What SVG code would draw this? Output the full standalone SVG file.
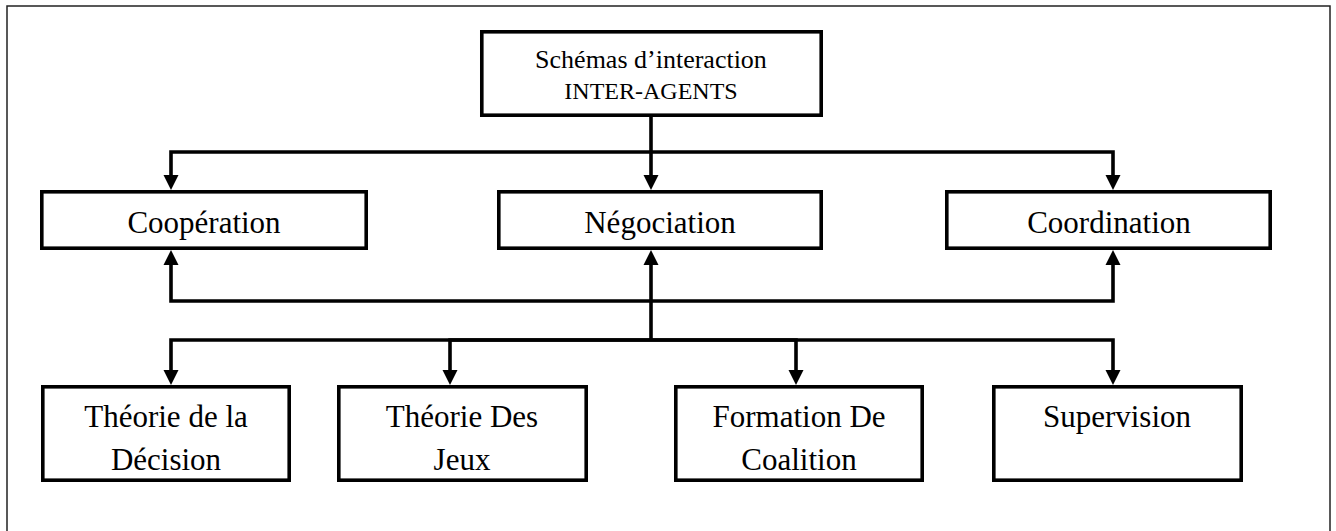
<svg xmlns="http://www.w3.org/2000/svg" width="1336" height="531" viewBox="0 0 1336 531">
  <style>
    .frame { fill: none; stroke: #222; stroke-width: 1.5; }
    .box { fill: #fff; stroke: #000; stroke-width: 3.6; }
    .link { fill: none; stroke: #000; stroke-width: 3.6; stroke-linejoin: miter; }
    .lbl { font-family: "Liberation Serif", "Times New Roman", serif; fill: #000; text-anchor: middle; }
    .big { font-size: 31px; }
  </style>
  <defs>
    <marker id="arrow" markerUnits="userSpaceOnUse" markerWidth="16" markerHeight="16" refX="0" refY="8" orient="auto">
      <path d="M0,0.5 L15,8 L0,15.5 z" fill="#000"/>
    </marker>
  </defs>

  <rect width="1336" height="531" fill="#fff"/>
  <!-- outer frame, runs past the bottom edge -->
  <rect class="frame" x="7" y="6" width="1323" height="560"/>

  <!-- connectors -->
  <g id="connectors">
    <!-- root to the three interaction modes -->
    <path class="link" d="M651,117 V175" marker-end="url(#arrow)"/>
    <path class="link" d="M651,152 H171 V175" marker-end="url(#arrow)"/>
    <path class="link" d="M651,152 H1113 V175" marker-end="url(#arrow)"/>
    <!-- feedback up to the three modes -->
    <path class="link" d="M651,340 V265" marker-end="url(#arrow)"/>
    <path class="link" d="M651,301 H171 V265" marker-end="url(#arrow)"/>
    <path class="link" d="M651,301 H1113 V265" marker-end="url(#arrow)"/>
    <!-- distribution to the four techniques -->
    <path class="link" d="M651,340 H171 V370" marker-end="url(#arrow)"/>
    <path class="link" d="M651,340 H450 V370" marker-end="url(#arrow)"/>
    <path class="link" d="M651,340 H796 V370" marker-end="url(#arrow)"/>
    <path class="link" d="M651,340 H1113 V370" marker-end="url(#arrow)"/>
  </g>

  <g id="root">
    <rect class="box" x="481.8" y="31.8" width="339.4" height="83.4"/>
    <text class="lbl" x="651" y="68" font-size="26">Schémas d’interaction</text>
    <text class="lbl" x="651" y="99" font-size="24">INTER-AGENTS</text>
  </g>

  <g id="cooperation">
    <rect class="box" x="41.8" y="191.8" width="324.4" height="56.4"/>
    <text class="lbl big" x="204" y="233">Coopération</text>
  </g>
  <g id="negociation">
    <rect class="box" x="498.8" y="191.8" width="322.4" height="56.4"/>
    <text class="lbl big" x="660" y="233">Négociation</text>
  </g>
  <g id="coordination">
    <rect class="box" x="946.8" y="191.8" width="323.4" height="56.4"/>
    <text class="lbl big" x="1109" y="233">Coordination</text>
  </g>

  <g id="theorie-decision">
    <rect class="box" x="42.8" y="386.8" width="246.4" height="93.4"/>
    <text class="lbl big" x="166" y="427">Théorie de la</text>
    <text class="lbl big" x="166" y="470">Décision</text>
  </g>
  <g id="theorie-jeux">
    <rect class="box" x="338.8" y="386.8" width="247.4" height="93.4"/>
    <text class="lbl big" x="462" y="427">Théorie Des</text>
    <text class="lbl big" x="462" y="470">Jeux</text>
  </g>
  <g id="formation-coalition">
    <rect class="box" x="675.8" y="386.8" width="246.4" height="93.4"/>
    <text class="lbl big" x="799" y="427">Formation De</text>
    <text class="lbl big" x="799" y="470">Coalition</text>
  </g>
  <g id="supervision">
    <rect class="box" x="993.8" y="386.8" width="247.4" height="93.4"/>
    <text class="lbl big" x="1117" y="427">Supervision</text>
  </g>
</svg>
